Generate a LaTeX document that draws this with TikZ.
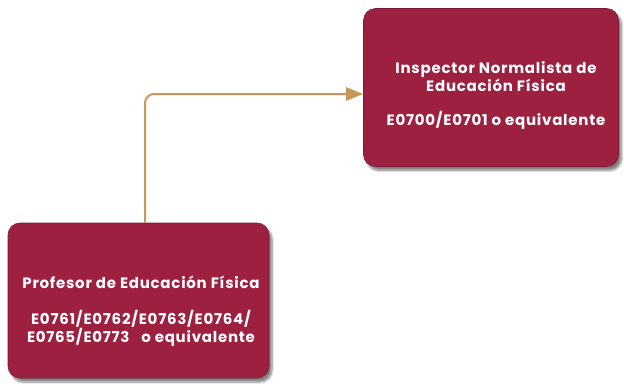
\documentclass[tikz,border=0pt]{standalone}
\usepackage{fontspec}
\setmainfont{Poppins}[UprightFont=* Bold, BoldFont=* Bold, LetterSpace=5]
\usetikzlibrary{shadows.blur,arrows.meta}
\definecolor{wine}{RGB}{158,32,64}
\definecolor{tan}{RGB}{201,150,90}
\tikzset{
  post/.style={draw=wine!80!black, line width=0.6pt, fill=wine, rounded corners=12pt,
    blur shadow={shadow xshift=3pt, shadow yshift=-4pt, shadow blur steps=6, shadow opacity=50},
    inner sep=0pt},
  posttext/.style={text=white, align=center, font=\fontsize{15}{18}\selectfont, inner sep=0pt},
  link/.style={draw=tan, line width=2pt, rounded corners=9pt, -{Triangle[length=17pt,width=13pt]}}
}
\begin{document}
\begin{tikzpicture}[x=1pt,y=-1pt]
\useasboundingbox (0,0) rectangle (624,391);
\node[post, minimum width=255pt, minimum height=158pt] (b1) at (491,87.5) {};
\node[posttext] (t1) at (496,95)
  {Inspector Normalista de\\Educación Física\\[16pt]E0700/E0701 o equivalente};
\node[post, minimum width=261pt, minimum height=155pt] (b2) at (138.5,300.5) {};
\node[posttext] (t2) at (141,311)
  {Profesor de Educación Física\\[18pt]E0761/E0762/E0763/E0764/\\E0765/E0773\ \ \ o equivalente};
\coordinate (c) at (145,94);
\draw[link] (b2.north -| c) |- (b1.west |- c);
\end{tikzpicture}
\end{document}
